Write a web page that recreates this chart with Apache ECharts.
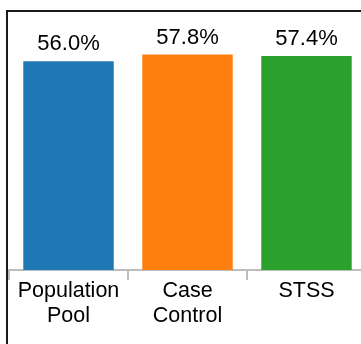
<!DOCTYPE html>
<html>
<head>
<meta charset="utf-8">
<style>
  html, body { margin: 0; padding: 0; background: #fff; overflow: hidden; }
  /* the plot area is wider than the window, so the last band runs past the right edge */
  #chart { width: 372px; height: 344px; }
</style>
<script src="https://cdn.jsdelivr.net/npm/echarts@6/dist/echarts.min.js"></script>
</head>
<body>
<div id="chart"></div>
<script>
// Share of each cohort, in percent
const categories = ['Population\nPool', 'Case\nControl', 'STSS'];
const values = [56.0, 57.8, 57.4];
const barColors = ['#1f77b4', '#ff7f0e', '#2ca02c'];

const chart = echarts.init(document.getElementById('chart'), null, { renderer: 'canvas' });

chart.setOption({
  animation: false,
  backgroundColor: '#ffffff',
  grid: { left: 9, right: 6, top: 9, bottom: 74, containLabel: false },
  xAxis: {
    type: 'category',
    data: categories,
    axisLine: { show: true, lineStyle: { color: '#bdbdbd', width: 2 } },
    axisTick: { show: true, length: 10, lineStyle: { color: '#bdbdbd', width: 2 } },
    axisLabel: {
      interval: 0,
      hideOverlap: false,
      color: '#000',
      fontFamily: 'Liberation Sans, Arial, sans-serif',
      fontSize: 21.5,
      lineHeight: 25,
      margin: 9
    }
  },
  yAxis: {
    type: 'value',
    min: 0,
    max: 70,
    show: false,
    splitLine: { show: false }
  },
  series: [{
    type: 'bar',
    barCategoryGap: '24%',
    data: values.map((v, i) => ({ value: v, itemStyle: { color: barColors[i] } })),
    label: {
      show: true,
      position: 'top',
      distance: 6,
      color: '#000',
      fontFamily: 'Liberation Sans, Arial, sans-serif',
      fontSize: 22,
      formatter: p => p.value.toFixed(1) + '%'
    }
  }],
  graphic: [{
    type: 'rect',
    silent: true,
    shape: { x: 7, y: 11, width: 420, height: 400 },
    style: { fill: null, stroke: '#1a1a1a', lineWidth: 2 }
  }]
});
</script>
</body>
</html>
